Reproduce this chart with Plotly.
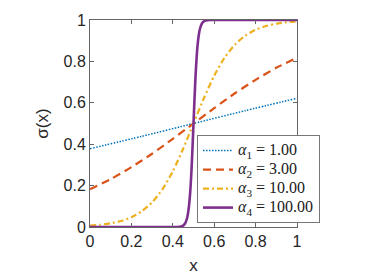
import plotly.graph_objects as go

# Data
x1 = [0, 0.25, 0.5, 0.75, 1.0]
y1 = [0.378, 0.438, 0.5, 0.562, 0.622]

x2 = [0, 0.1, 0.2, 0.3, 0.4, 0.5, 0.6, 0.7, 0.8, 0.9, 1.0]
y2 = [0.182, 0.231, 0.289, 0.354, 0.426, 0.5, 0.574, 0.646, 0.711, 0.769, 0.818]

x3 = [0, 0.05, 0.1, 0.15, 0.2, 0.25, 0.3, 0.35, 0.4, 0.45, 0.5,
      0.55, 0.6, 0.65, 0.7, 0.75, 0.8, 0.85, 0.9, 0.95, 1.0]
y3 = [0.007, 0.011, 0.018, 0.029, 0.047, 0.076, 0.119, 0.182, 0.269, 0.378, 0.5,
      0.622, 0.731, 0.818, 0.881, 0.924, 0.953, 0.971, 0.982, 0.989, 0.993]

x4 = [0, 0.42, 0.44, 0.45, 0.46, 0.47, 0.475, 0.48, 0.485, 0.49, 0.495, 0.5,
      0.505, 0.51, 0.515, 0.52, 0.525, 0.53, 0.54, 0.55, 0.56, 0.58, 1.0]
y4 = [0.0, 0.0003, 0.0025, 0.0067, 0.018, 0.047, 0.076, 0.119, 0.182, 0.269, 0.378, 0.5,
      0.622, 0.731, 0.818, 0.881, 0.924, 0.953, 0.982, 0.9933, 0.9975, 0.9997, 1.0]

alphas = ["1.00", "3.00", "10.00", "100.00"]
colors = ["#0072BD", "#D95319", "#EDB120", "#7E2F8E"]
dashes = ["1.5px,1.5px", "8px,5px", "6px,3px,2px,3px", "solid"]
widths = [1.5, 2.2, 2.2, 2.6]

xt_vals = [0, 0.2, 0.4, 0.6, 0.8, 1]
xt_text = ["0", "0.2", "0.4", "0.6", "0.8", "1"]
yt_vals = [0, 0.2, 0.4, 0.6, 0.8, 1]
yt_text = ["0", "0.2", "0.4", "0.6", "0.8", "1"]

fig = go.Figure()
for i, (xs, ys, a, c, d, w) in enumerate(zip([x1, x2, x3, x4], [y1, y2, y3, y4], alphas, colors, dashes, widths)):
    name = f"<span style='font-size:16px'><i>α</i><sub>{i + 1}</sub> = {a}</span>"
    fig.add_trace(go.Scatter(x=xs, y=ys, mode="lines", name=name,
                             line=dict(color=c, dash=d, width=w, shape="spline", smoothing=0.6)))

axis_common = dict(
    showgrid=False, zeroline=False, showline=True, linecolor="#666", linewidth=1,
    mirror="ticks", ticks="inside", ticklen=4, tickcolor="#666",
    tickfont=dict(family="Liberation Sans, Arial", size=16, color="#262626"),
)
fig.update_xaxes(range=[0, 1], tickvals=xt_vals, ticktext=xt_text,
                 title=dict(text="x", font=dict(family="Liberation Sans, Arial", size=17, color="#262626"), standoff=9),
                 **axis_common)
fig.update_yaxes(range=[0, 1], tickvals=yt_vals, ticktext=yt_text,
                 title=dict(text="σ(x)", font=dict(family="Liberation Sans, Arial", size=17, color="#262626"), standoff=10),
                 **axis_common)

fig.update_layout(
    width=374, height=280,
    margin=dict(l=90, r=77, t=20, b=53, autoexpand=False),
    plot_bgcolor="white", paper_bgcolor="white",
    showlegend=True,
    legend=dict(x=0.517, y=0.444, xanchor="left", yanchor="top",
                bgcolor="white", bordercolor="#777", borderwidth=1,
                font=dict(family="Liberation Serif, DejaVu Serif", size=12, color="#1a1a1a"),
                tracegroupgap=0, itemwidth=30),
)

fig.write_html("out.html", config={"displayModeBar": False},
               post_script="document.body.style.margin='0px';document.body.style.padding='0px';")
